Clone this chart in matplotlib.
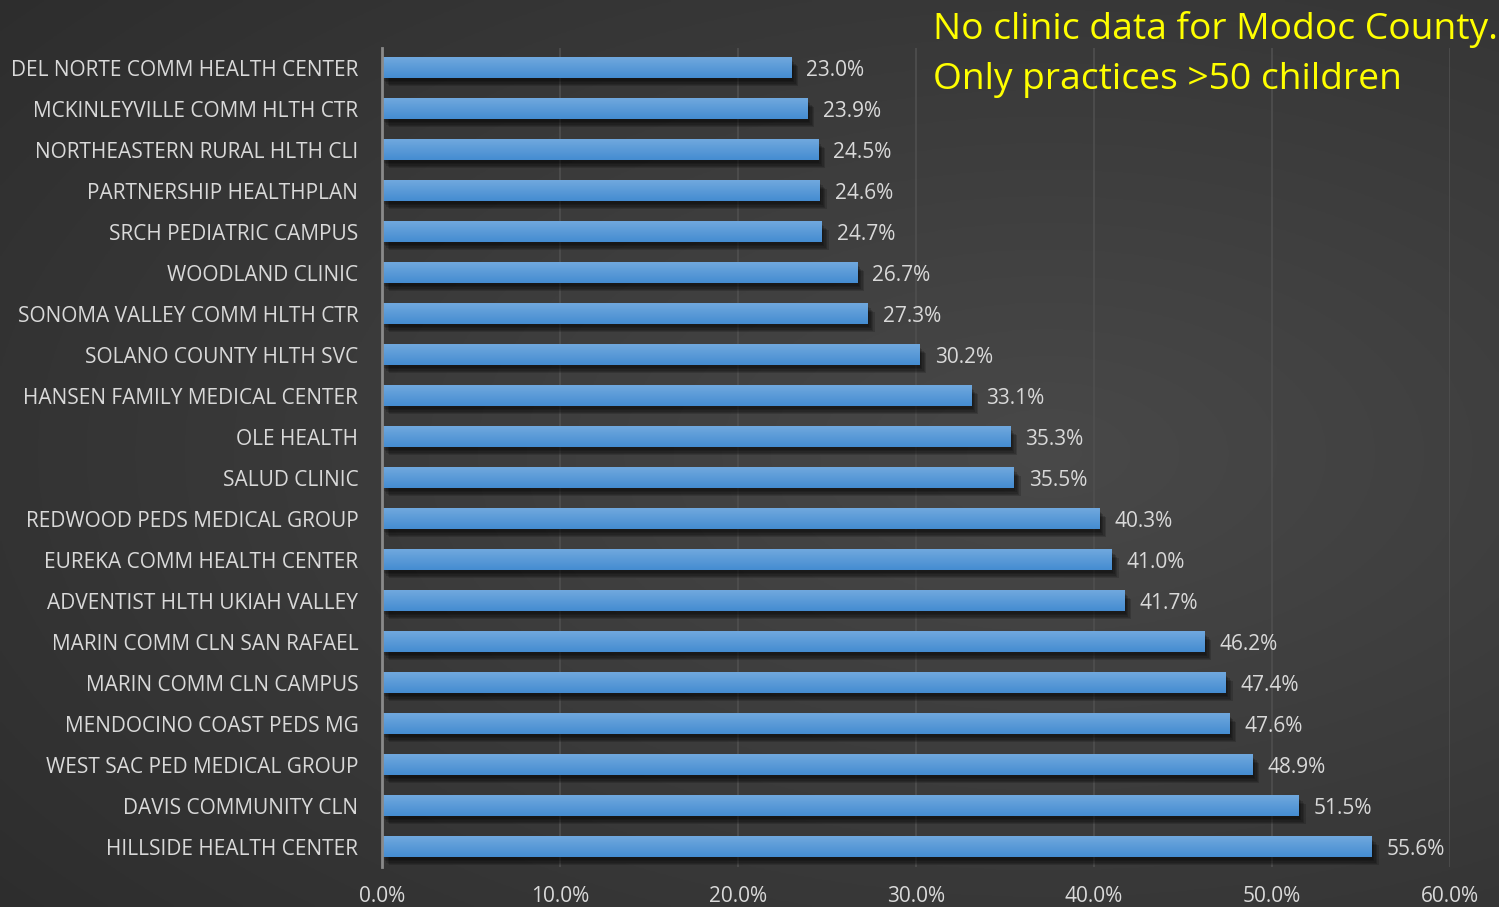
import matplotlib.pyplot as plt
import matplotlib.patheffects as pe
import numpy as np

clinics = [
    'DEL NORTE COMM HEALTH CENTER', 'MCKINLEYVILLE COMM HLTH CTR',
    'NORTHEASTERN RURAL HLTH CLI', 'PARTNERSHIP HEALTHPLAN',
    'SRCH PEDIATRIC CAMPUS', 'WOODLAND CLINIC',
    'SONOMA VALLEY COMM HLTH CTR', 'SOLANO COUNTY HLTH SVC',
    'HANSEN FAMILY MEDICAL CENTER', 'OLE HEALTH', 'SALUD CLINIC',
    'REDWOOD PEDS MEDICAL GROUP', 'EUREKA COMM HEALTH CENTER',
    'ADVENTIST HLTH UKIAH VALLEY', 'MARIN COMM CLN SAN RAFAEL',
    'MARIN COMM CLN CAMPUS', 'MENDOCINO COAST PEDS MG',
    'WEST SAC PED MEDICAL GROUP', 'DAVIS COMMUNITY CLN',
    'HILLSIDE HEALTH CENTER',
]
rates = [23.0, 23.9, 24.5, 24.6, 24.7, 26.7, 27.3, 30.2, 33.1, 35.3,
         35.5, 40.3, 41.0, 41.7, 46.2, 47.4, 47.6, 48.9, 51.5, 55.6]
x_ticks = [0, 10, 20, 30, 40, 50, 60]
note_lines = ['No clinic data for Modoc County.', 'Only practices >50 children']

plt.rcParams['font.family'] = ['Open Sans', 'DejaVu Sans']

fig = plt.figure(figsize=(14.99, 9.07), dpi=100)

# dark radial background, lighter towards the upper right
bg = fig.add_axes([0, 0, 1, 1], zorder=-10)
yy, xx = np.mgrid[0:1:300j, 0:1:500j]
r = np.sqrt(((xx - 0.7) / 1.0) ** 2 + ((yy - 0.5) / 0.9) ** 2)
shade = 0.285 - 0.12 * np.clip(r, 0, 1)
bg.imshow(np.dstack([shade] * 3), extent=[0, 1, 0, 1], aspect='auto', origin='lower')
bg.axis('off')

ax = fig.add_axes([0.2548, 0.0436, 0.7125, 0.904])
ax.patch.set_alpha(0)
y = np.arange(len(clinics))

bars = ax.barh(y, rates, height=0.49, color='#5a9ad8', zorder=3)
grad = np.linspace(0, 1, 50).reshape(-1, 1)
top_c = np.array([0.44, 0.66, 0.87])
bot_c = np.array([0.27, 0.55, 0.82])
soft = [pe.SimplePatchShadow(offset=(o, -o - 1), shadow_rgbFace='black', alpha=0.16)
        for o in (1, 2, 3, 4, 5)]
for b in bars:
    b.set_path_effects(soft + [pe.Normal()])
    x0, y0 = b.get_x(), b.get_y()
    w, h = b.get_width(), b.get_height()
    img = top_c * (1 - grad[..., None]) + bot_c * grad[..., None]
    ax.imshow(img, extent=[x0, x0 + w, y0 + h, y0], aspect='auto', zorder=4, origin='upper')

for yi, v in zip(y, rates):
    ax.text(v + 0.85, yi + 0.06, f'{v:.1f}%', va='center', ha='left', color='#d9d9d9',
            fontsize=15, zorder=5)

ax.set_xlim(0, 60)
ax.set_ylim(len(clinics) - 0.5, -0.5)
ax.set_xticks(x_ticks)
ax.set_xticklabels([f'{t:.1f}%' for t in x_ticks], fontsize=15, color='#d9d9d9')
ax.set_yticks(y)
ax.set_yticklabels(clinics, fontsize=15, color='#d9d9d9')
ax.tick_params(length=0, pad=17, axis='y')
ax.tick_params(length=0, pad=13, axis='x')
ax.grid(axis='x', color='#4f4f4f', linewidth=1.2, zorder=0)
for s in ['top', 'right', 'bottom']:
    ax.spines[s].set_visible(False)
ax.spines['left'].set_color('#8a8a8a')
ax.spines['left'].set_linewidth(2)
ax.spines['left'].set_zorder(6)

fig.text(0.6225, 0.967, note_lines[0], color='#ffff00', fontsize=26.8, va='center', ha='left')
fig.text(0.6225, 0.912, note_lines[1], color='#ffff00', fontsize=26.8, va='center', ha='left')

fig.savefig('out.png', dpi=100)
